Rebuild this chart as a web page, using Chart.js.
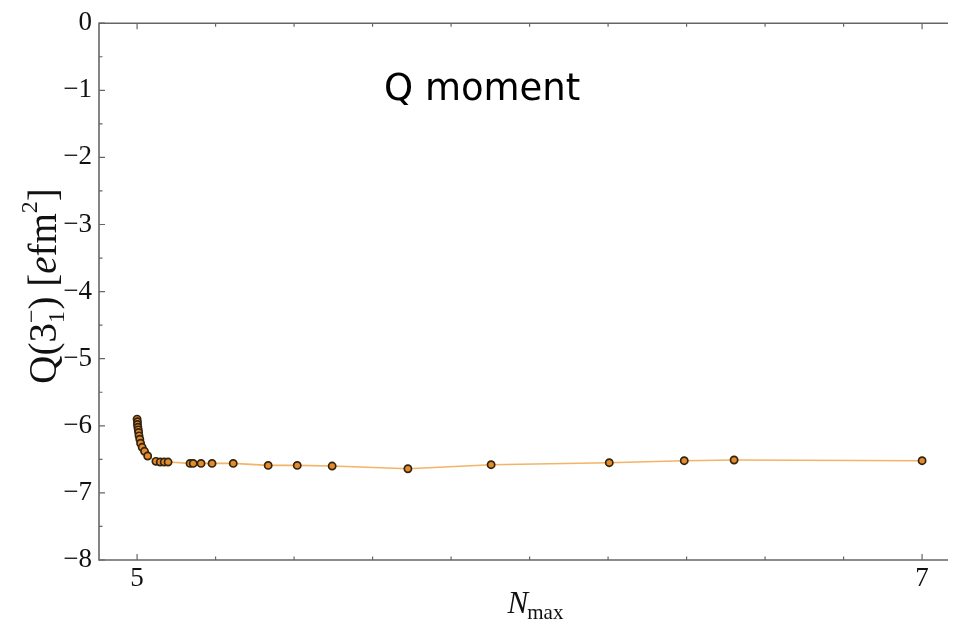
<!DOCTYPE html>
<html>
<head>
<meta charset="utf-8">
<script src="https://cdn.jsdelivr.net/npm/chart.js"></script>
<style>
  html, body { margin: 0; padding: 0; background: #fff; }
  #wrap { width: 954px; height: 629px; position: relative; }
</style>
</head>
<body>
<div id="wrap"><canvas id="qChart" width="954" height="629"></canvas></div>
<script>
// Q(3-1) quadrupole moment vs Nmax
const nmaxValues = [
  5.000, 5.001, 5.001, 5.002, 5.003, 5.004, 5.005, 5.007, 5.009, 5.013, 5.019, 5.027,
  5.048, 5.059, 5.069, 5.079, 5.135, 5.143, 5.163, 5.191, 5.245,
  5.334, 5.408, 5.497, 5.690, 5.902, 6.203, 6.394, 6.521, 7.000
];
const qValues = [
  -5.90, -5.94, -5.98, -6.02, -6.06, -6.10, -6.15, -6.20, -6.26, -6.32, -6.38, -6.45,
  -6.53, -6.54, -6.54, -6.54, -6.56, -6.56, -6.56, -6.56, -6.56,
  -6.59, -6.59, -6.60, -6.64, -6.58, -6.55, -6.52, -6.51, -6.52
];
const xTickLabels = [5, 7];
const yMin = -8, yMax = 0;

const serif = '"Liberation Serif", "DejaVu Serif", serif';
const frameColor = '#666';

const points = nmaxValues.map((x, i) => ({ x: x, y: qValues[i] }));

// frame, inward ticks and axis titles
const framePlugin = {
  id: 'frame',
  afterDraw(chart) {
    const ctx = chart.ctx;
    const a = chart.chartArea;
    const xs = chart.scales.x, ys = chart.scales.y;
    ctx.save();
    ctx.strokeStyle = frameColor;
    ctx.lineWidth = 1.6;
    ctx.beginPath();
    ctx.moveTo(a.right, a.top); ctx.lineTo(a.left, a.top);
    ctx.lineTo(a.left, a.bottom); ctx.lineTo(a.right, a.bottom);
    ctx.stroke();

    ctx.lineWidth = 1.2;
    ctx.beginPath();
    for (let v = yMin; v <= yMax; v += 0.5) {
      const py = ys.getPixelForValue(v);
      const len = Number.isInteger(v) ? 6 : 3.5;
      ctx.moveTo(a.left, py); ctx.lineTo(a.left + len, py);
    }
    for (let k = 0; k <= 10; k++) {
      const v = 5 + k * 0.2;
      const px = xs.getPixelForValue(v);
      const len = (k === 0 || k === 10) ? 6 : 3.5;
      ctx.moveTo(px, a.bottom); ctx.lineTo(px, a.bottom - len);
      ctx.moveTo(px, a.top); ctx.lineTo(px, a.top + len);
    }
    ctx.stroke();

    // y title: Q(3_1^-) [e fm^2]
    ctx.fillStyle = '#111';
    ctx.translate(56, 286);
    ctx.rotate(-Math.PI / 2);
    ctx.textBaseline = 'alphabetic';
    ctx.textAlign = 'left';
    const big = '39px ' + serif, small = '24px ' + serif, ital = 'italic 39px ' + serif;
    const parts = [
      ['Q(3', big, 0], ['1', small, 8], ['\u2212', small, -17], [') [', big, 0],
      ['e', ital, 0], ['fm', big, 0], ['2', small, -19], [']', big, 0]
    ];
    let total = 0;
    parts.forEach(p => { ctx.font = p[1]; total += ctx.measureText(p[0]).width; });
    total -= 12;
    let cx = -total / 2;
    parts.forEach((p, i) => {
      ctx.font = p[1];
      if (i === 2) cx -= ctx.measureText('1').width;
      ctx.fillText(p[0], cx, p[2]);
      cx += ctx.measureText(p[0]).width;
    });
    ctx.restore();

    // x title: N_max
    ctx.save();
    ctx.fillStyle = '#111';
    ctx.textBaseline = 'alphabetic';
    ctx.font = 'italic 31px ' + serif;
    const wN = ctx.measureText('N').width;
    ctx.font = '21px ' + serif;
    const wM = ctx.measureText('max').width;
    const x0 = 536 - (wN + wM) / 2;
    ctx.font = 'italic 31px ' + serif;
    ctx.fillText('N', x0, 613);
    ctx.font = '21px ' + serif;
    ctx.fillText('max', x0 + wN - 1, 619);

    // inset title
    ctx.font = '37px "DejaVu Sans", sans-serif';
    ctx.fillStyle = '#000';
    ctx.fillText('Q moment', 384, 100);
    ctx.restore();
  }
};

const config = {
  type: 'scatter',
  data: {
    datasets: [{
      data: points,
      showLine: true,
      borderColor: '#f3b466',
      borderWidth: 1.6,
      pointRadius: 3.6,
      pointBackgroundColor: '#e48c2c',
      pointBorderColor: '#33240f',
      pointBorderWidth: 1.7,
      tension: 0
    }]
  },
  options: {
    responsive: false,
    animation: false,
    layout: { padding: { top: 20, right: 6, left: 0, bottom: 0 } },
    plugins: { legend: { display: false }, tooltip: { enabled: false } },
    scales: {
      x: {
        type: 'linear',
        min: 4.903,
        max: 7.066,
        grid: { display: false, drawTicks: false },
        border: { display: false },
        afterBuildTicks: s => { s.ticks = xTickLabels.map(v => ({ value: v })); },
        afterFit: s => { s.height = 69; },
        ticks: {
          padding: 3,
          color: '#111',
          font: { family: serif, size: 27 },
          callback: v => String(v)
        }
      },
      y: {
        min: yMin,
        max: yMax,
        grid: { display: false, drawTicks: false },
        border: { display: false },
        afterFit: s => { s.width = 99; },
        ticks: {
          stepSize: 1,
          padding: 7,
          color: '#111',
          font: { family: serif, size: 27 },
          callback: v => v < 0 ? '\u2212' + Math.abs(v) : String(v)
        }
      }
    }
  },
  plugins: [framePlugin]
};

new Chart(document.getElementById('qChart').getContext('2d'), config);
</script>
</body>
</html>
